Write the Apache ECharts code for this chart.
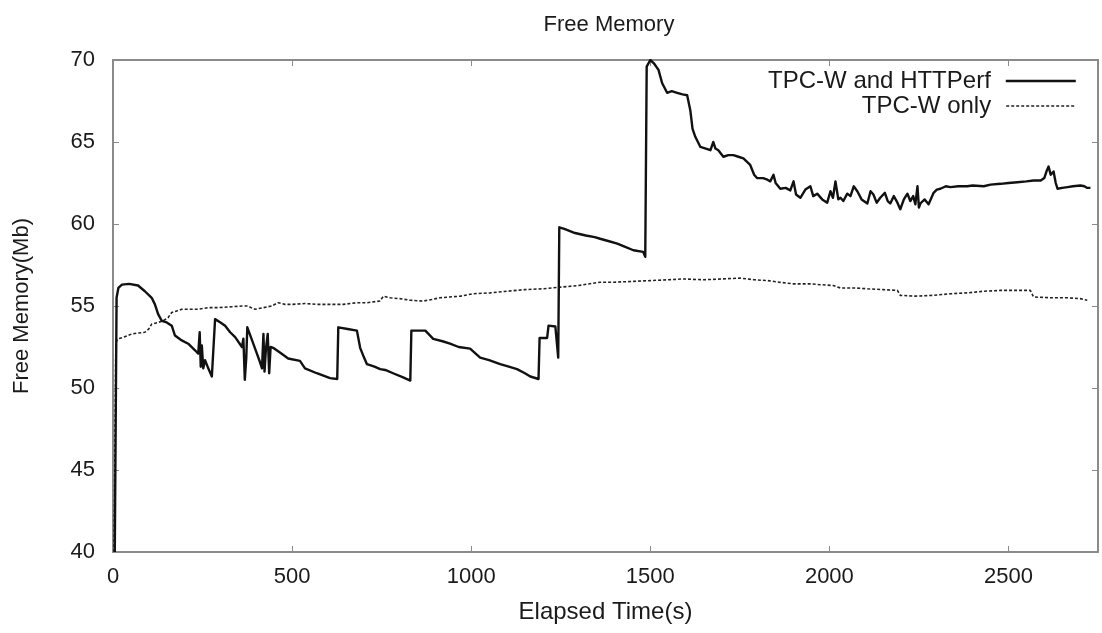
<!DOCTYPE html>
<html>
<head>
<meta charset="utf-8">
<script src="https://cdn.jsdelivr.net/npm/echarts@6/dist/echarts.min.js"></script>
<style>
  html, body { margin: 0; padding: 0; background: #fff; }
  #chart { width: 1102px; height: 633px; }
</style>
</head>
<body>
<div id="chart"></div>
<script>
// Free memory over elapsed time for two workloads.
const seriesNames = ['TPC-W and HTTPerf', 'TPC-W only'];

const xTicks = [0, 500, 1000, 1500, 2000, 2500];
const yTicks = [40, 45, 50, 55, 60, 65, 70];

// TPC-W and HTTPerf: elapsed time (s) and free memory (Mb)
const httperfTime = [
  5, 10, 15, 25, 45, 70, 89, 108, 117, 126, 136, 150, 164, 173, 192, 210, 229, 238,
  242, 245, 248, 252, 257, 266, 276, 281, 285, 300, 313, 327, 341, 360, 364, 368,
  372, 375, 385, 400, 410, 416, 420, 423, 427, 432, 436, 440, 447, 470, 489, 522,
  536, 569, 606, 626, 629, 655, 681, 690, 700, 709, 730, 746, 760, 782, 810, 830,
  833, 872, 894, 920, 941, 965, 997, 1025, 1050, 1081, 1105, 1128, 1150, 1165, 1188,
  1191, 1212, 1216, 1235, 1243, 1246, 1260, 1290, 1320, 1345, 1360, 1385, 1408, 1430,
  1453, 1480, 1486, 1490, 1500, 1510, 1523, 1533, 1547, 1560, 1575, 1590, 1603, 1612,
  1618, 1626, 1640, 1655, 1668, 1676, 1682, 1690, 1704, 1718, 1732, 1746, 1760, 1779,
  1790, 1798, 1815, 1827, 1835, 1844, 1850, 1863, 1878, 1891, 1900, 1907, 1919, 1933,
  1947, 1955, 1966, 1980, 1994, 2003, 2010, 2017, 2025, 2031, 2039, 2050, 2059, 2068,
  2078, 2090, 2106, 2115, 2123, 2132, 2142, 2155, 2163, 2170, 2180, 2190, 2198, 2208,
  2218, 2226, 2234, 2240, 2246, 2250, 2254, 2266, 2277, 2285, 2291, 2300, 2310, 2325,
  2338, 2360, 2385, 2400, 2431, 2450, 2478, 2500, 2525, 2550, 2570, 2590, 2600, 2606,
  2612, 2618, 2626, 2632, 2637, 2650, 2665, 2680, 2701, 2712, 2720, 2729
];
const httperfMem = [
  40, 55.5, 56.1, 56.3, 56.35, 56.25, 55.9, 55.5, 55.1, 54.5, 54.1, 54.0, 53.8, 53.2, 52.9, 52.7, 52.3, 52.1,
  53.4, 51.3, 52.6, 51.2, 51.7, 51.2, 50.7, 50.8, 54.2, 54.0, 53.8, 53.4, 53.1, 52.5, 53.0, 50.5,
  51.8, 53.7, 53.1, 52.2, 51.6, 51.2, 53.3, 51.0, 52.4, 53.3, 50.9, 52.5, 52.45, 52.1, 51.8, 51.65,
  51.2, 50.9, 50.6, 50.55, 53.7, 53.6, 53.5, 52.45, 51.9, 51.45, 51.3, 51.15, 51.1, 50.9, 50.65, 50.45,
  53.5, 53.5, 53.0, 52.85, 52.7, 52.5, 52.4, 51.85, 51.7, 51.45, 51.3, 51.15, 50.9, 50.7, 50.55,
  53.05, 53.05, 53.8, 53.75, 51.85, 59.8, 59.7, 59.45, 59.3, 59.2, 59.1, 58.95, 58.8, 58.6,
  58.4, 58.3, 58.0, 69.6, 70.0, 69.8, 69.4, 68.6, 68.0, 68.1, 68.0, 67.9, 67.85, 66.9,
  65.8, 65.3, 64.7, 64.6, 64.5, 65.0, 64.6, 64.5, 64.1, 64.2, 64.2, 64.1, 64.0, 63.6,
  63.0, 62.8, 62.8, 62.7, 62.6, 63.0, 62.5, 62.15, 62.2, 62.05, 62.6, 61.8, 61.6, 62.1,
  62.3, 61.7, 61.85, 61.5, 61.3, 62.0, 61.6, 62.6, 61.5, 61.6, 61.4, 61.85, 61.7, 62.3,
  62.0, 61.5, 61.25, 62.0, 61.8, 61.3, 61.6, 61.9, 61.4, 61.25, 61.7, 61.3, 60.9, 61.5,
  61.85, 61.4, 61.7, 61.2, 62.3, 61.0, 61.25, 61.5, 61.2, 61.6, 61.9, 62.1, 62.15, 62.3,
  62.25, 62.3, 62.3, 62.35, 62.3, 62.4, 62.45, 62.5, 62.55, 62.6, 62.65, 62.65, 62.8, 63.2,
  63.5, 63.0, 63.2, 62.5, 62.15, 62.2, 62.25, 62.3, 62.35, 62.3, 62.2, 62.2
];

// TPC-W only: elapsed time (s) and free memory (Mb)
const tpcwTime = [
  3, 8, 14, 30, 53, 70, 89, 100, 108, 126, 140, 154, 164, 178, 192, 215, 238, 265,
  293, 330, 360, 377, 390, 397, 420, 443, 461, 480, 500, 536, 569, 600, 643, 680,
  709, 745, 755, 774, 800, 830, 866, 890, 913, 940, 970, 1006, 1053, 1100, 1150, 1200,
  1250, 1300, 1360, 1400, 1450, 1500, 1550, 1592, 1650, 1700, 1751, 1790, 1827, 1860,
  1900, 1950, 1975, 2011, 2031, 2070, 2106, 2150, 2190, 2198, 2240, 2291, 2340, 2385,
  2430, 2478, 2520, 2561, 2570, 2620, 2665, 2700, 2720
];
const tpcwMem = [
  40, 52.8, 53.0, 53.1, 53.3, 53.35, 53.4, 53.6, 53.9, 54.0, 54.1, 54.3, 54.6, 54.7, 54.8, 54.8, 54.8, 54.9,
  54.9, 54.95, 55.0, 55.0, 54.85, 54.8, 54.9, 55.0, 55.2, 55.1, 55.1, 55.15, 55.1, 55.1, 55.1, 55.2,
  55.2, 55.3, 55.6, 55.5, 55.45, 55.35, 55.3, 55.4, 55.5, 55.55, 55.6, 55.75, 55.8, 55.9, 56.0, 56.05,
  56.15, 56.25, 56.45, 56.45, 56.5, 56.55, 56.6, 56.65, 56.6, 56.65, 56.7, 56.6, 56.55, 56.45,
  56.35, 56.35, 56.3, 56.25, 56.1, 56.1, 56.05, 56.0, 55.95, 55.65, 55.6, 55.65, 55.75, 55.8,
  55.9, 55.95, 55.95, 55.95, 55.55, 55.5, 55.5, 55.45, 55.35
];

const FONT = '"Liberation Sans", Arial, Helvetica, sans-serif';
const TEXT = '#1a1a1a';
const FRAME = '#8a8a8a';
const xMin = xTicks[0], xMax = 2750, xStep = xTicks[1] - xTicks[0];
const yMin = yTicks[0], yMax = yTicks[yTicks.length - 1], yStep = yTicks[1] - yTicks[0];

function pairs(xs, ys) { return xs.map((x, i) => [x, ys[i]]); }

const frameLine = { show: true, onZero: false, lineStyle: { color: FRAME, width: 2 } };
const innerTick = { show: true, inside: true, length: 6, lineStyle: { color: FRAME, width: 1 } };
// legend keys show only the line sample, no marker
const noMarker = { color: 'transparent', borderColor: 'transparent', borderWidth: 0, opacity: 0 };

const chart = echarts.init(document.getElementById('chart'), null, { renderer: 'canvas' });
chart.setOption({
  backgroundColor: '#ffffff',
  animation: false,
  title: {
    text: 'Free Memory',
    left: 604,
    textAlign: 'center',
    top: 9,
    textStyle: { fontFamily: FONT, fontSize: 22, fontWeight: 'normal', color: TEXT }
  },
  legend: [
    {
      data: [seriesNames[0]],
      right: 20, top: 64,
      orient: 'vertical', align: 'right',
      itemWidth: 70, itemHeight: 14,
      textStyle: { fontFamily: FONT, fontSize: 24, color: TEXT, padding: [0, 10, 0, 0] },
      lineStyle: { width: 2.4, color: '#111' },
      itemStyle: noMarker,
      selectedMode: false
    },
    {
      data: [seriesNames[1]],
      right: 20, top: 89,
      orient: 'vertical', align: 'right',
      itemWidth: 70, itemHeight: 14,
      textStyle: { fontFamily: FONT, fontSize: 24, color: TEXT, padding: [0, 10, 0, 0] },
      lineStyle: { width: 1.6, color: '#222', type: [3, 2] },
      itemStyle: noMarker,
      selectedMode: false
    }
  ],
  grid: { left: 113, right: 4, top: 60, bottom: 81, containLabel: false },
  xAxis: [
    {
      type: 'value', min: xMin, max: xMax, interval: xStep,
      name: 'Elapsed Time(s)', nameLocation: 'middle', nameGap: 48,
      nameTextStyle: { fontFamily: FONT, fontSize: 24, color: TEXT },
      axisLine: frameLine, axisTick: innerTick,
      axisLabel: {
        fontFamily: FONT, fontSize: 22, color: TEXT, margin: 14,
        showMaxLabel: false,
        formatter: v => (xTicks.indexOf(v) >= 0 ? String(v) : '')
      },
      splitLine: { show: false }
    },
    {
      type: 'value', position: 'top', min: xMin, max: xMax, interval: xStep,
      axisLine: frameLine, axisTick: innerTick,
      axisLabel: { show: false }, splitLine: { show: false }
    }
  ],
  yAxis: [
    {
      type: 'value', min: yMin, max: yMax, interval: yStep,
      name: 'Free Memory(Mb)', nameLocation: 'middle', nameGap: 80,
      nameTextStyle: { fontFamily: FONT, fontSize: 22, color: TEXT },
      axisLine: frameLine, axisTick: innerTick,
      axisLabel: { fontFamily: FONT, fontSize: 22, color: TEXT, margin: 18 },
      splitLine: { show: false }
    },
    {
      type: 'value', position: 'right', min: yMin, max: yMax, interval: yStep,
      axisLine: frameLine, axisTick: innerTick,
      axisLabel: { show: false }, splitLine: { show: false }
    }
  ],
  series: [
    {
      name: seriesNames[0],
      type: 'line',
      data: pairs(httperfTime, httperfMem),
      symbol: 'none',
      clip: true,
      lineStyle: { color: '#111', width: 2.4, join: 'round' },
      itemStyle: { color: '#111' },
      z: 3
    },
    {
      name: seriesNames[1],
      type: 'line',
      data: pairs(tpcwTime, tpcwMem),
      symbol: 'none',
      clip: true,
      lineStyle: { color: '#222', width: 1.6, type: [3, 2] },
      itemStyle: { color: '#222' },
      z: 2
    }
  ]
});
</script>
</body>
</html>
